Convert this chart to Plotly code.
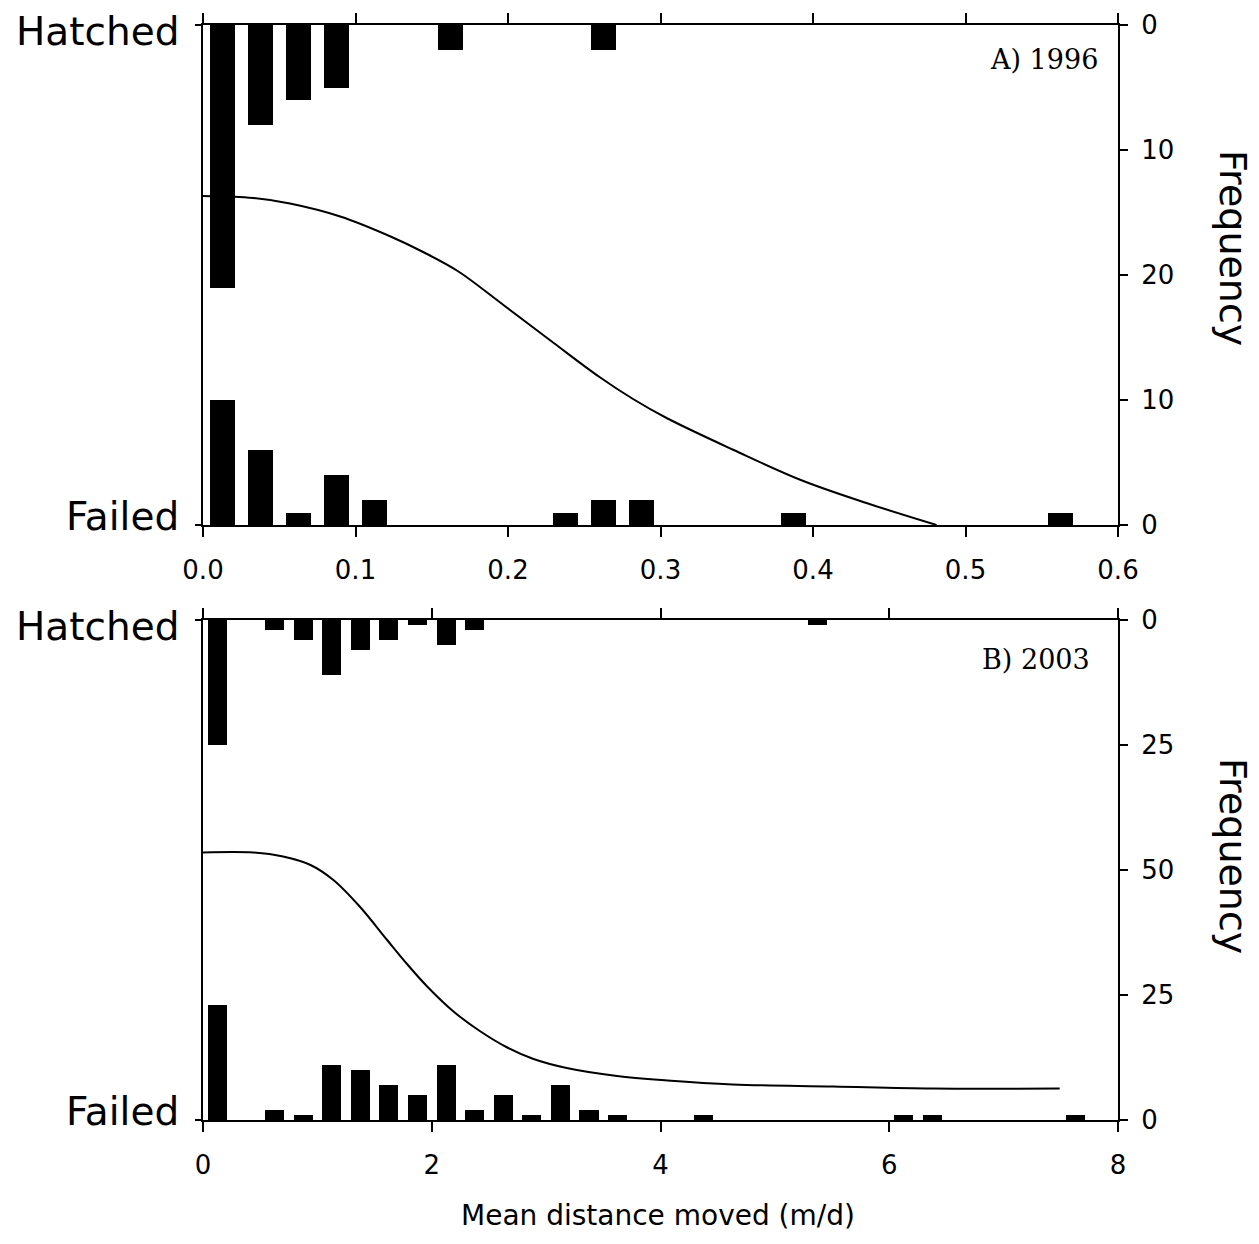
import plotly.graph_objects as go

# ---------------- Panel A (1996) ----------------
a_hatched_x = [0.0125, 0.0375, 0.0625, 0.0875, 0.1625, 0.2625]
a_hatched_n = [21, 8, 6, 5, 2, 2]
a_failed_x = [0.0125, 0.0375, 0.0625, 0.0875, 0.1125, 0.2375, 0.2625, 0.2875, 0.3875, 0.5625]
a_failed_n = [10, 6, 1, 4, 2, 1, 2, 2, 1, 1]
a_curve_x = [0.0, 0.033, 0.057, 0.090, 0.123, 0.145, 0.167, 0.197, 0.230, 0.260, 0.282, 0.304,
             0.348, 0.392, 0.435, 0.481]
a_curve_p = [0.658, 0.654, 0.643, 0.617, 0.577, 0.545, 0.508, 0.440, 0.364, 0.296, 0.252, 0.214,
             0.150, 0.090, 0.044, 0.0]
a_xticks = [0.0, 0.1, 0.2, 0.3, 0.4, 0.5, 0.6]
a_freq_ticks = [0, 10, 20, 30, 40]
a_freq_text = ["0", "10", "20", "10", "0"]

# ---------------- Panel B (2003) ----------------
b_hatched_x = [0.125, 0.625, 0.875, 1.125, 1.375, 1.625, 1.875, 2.125, 2.375, 5.375]
b_hatched_n = [25, 2, 4, 11, 6, 4, 1, 5, 2, 1]
b_failed_x = [0.125, 0.625, 0.875, 1.125, 1.375, 1.625, 1.875, 2.125, 2.375, 2.625,
              2.875, 3.125, 3.375, 3.625, 4.375, 6.125, 6.375, 7.625]
b_failed_n = [23, 2, 1, 11, 10, 7, 5, 11, 2, 5, 1, 7, 2, 1, 1, 1, 1, 1]
b_curve_x = [0.0, 0.44, 0.70, 0.94, 1.14, 1.37, 1.61, 1.78, 1.96, 2.19, 2.42, 2.66, 2.89,
             3.18, 3.62, 4.06, 4.63, 5.51, 6.38, 7.49]
b_curve_p = [0.535, 0.535, 0.527, 0.510, 0.480, 0.427, 0.360, 0.313, 0.267, 0.217, 0.178,
             0.145, 0.122, 0.104, 0.088, 0.079, 0.071, 0.067, 0.063, 0.063]
b_xticks = [0, 2, 4, 6, 8]
b_freq_ticks = [0, 25, 50, 75, 100]
b_freq_text = ["0", "25", "50", "25", "0"]

outcome_labels = ["Failed", "Hatched"]
x_title = "Mean distance moved (m/d)"
freq_title = "Frequency"
panel_labels = ["A) 1996", "B) 2003"]

FONT = "DejaVu Sans"
TICKF = dict(family=FONT, size=26, color="black")
BIGF = dict(family=FONT, size=39, color="black")
FREQF = dict(family=FONT, size=38, color="black")

fig = go.Figure()

# Panel A traces
fig.add_trace(go.Bar(x=a_failed_x, y=a_failed_n, xaxis="x", yaxis="y2",
                     width=0.0164, marker=dict(color="black", line_width=0), showlegend=False))
fig.add_trace(go.Bar(x=a_hatched_x, y=a_hatched_n, xaxis="x", yaxis="y3",
                     width=0.0164, marker=dict(color="black", line_width=0), showlegend=False))
fig.add_trace(go.Scatter(x=a_curve_x, y=a_curve_p, xaxis="x", yaxis="y", mode="lines",
                         line=dict(color="black", width=2, shape="spline", smoothing=1.0),
                         showlegend=False))

# Panel B traces
fig.add_trace(go.Bar(x=b_failed_x, y=b_failed_n, xaxis="x2", yaxis="y5",
                     width=0.167, marker=dict(color="black", line_width=0), showlegend=False))
fig.add_trace(go.Bar(x=b_hatched_x, y=b_hatched_n, xaxis="x2", yaxis="y6",
                     width=0.167, marker=dict(color="black", line_width=0), showlegend=False))
fig.add_trace(go.Scatter(x=b_curve_x, y=b_curve_p, xaxis="x2", yaxis="y4", mode="lines",
                         line=dict(color="black", width=2, shape="spline", smoothing=1.0),
                         showlegend=False))

# page body adds an 8px offset, so the figure is drawn slightly smaller
W, H = 1251, 1236
ML, MT = 195, 17
PW, PH = 915, 1095
MR = W - ML - PW
MB = H - MT - PH
dom_a = [1 - 500 / PH, 1]
dom_b = [0, 1 - 595 / PH]

axline = dict(showline=True, linecolor="black", linewidth=2, ticks="outside",
              tickcolor="black", tickwidth=2, showgrid=False, zeroline=False)

fig.update_layout(
    width=W, height=H,
    margin=dict(l=ML, r=MR, t=MT, b=MB, autoexpand=False),
    plot_bgcolor="white", paper_bgcolor="white",
    barmode="overlay", bargap=0,
    xaxis=dict(domain=[0, 1], anchor="y", range=[0, 0.6], tickvals=a_xticks,
               tickformat=".1f", ticklen=10, mirror="ticks", tickfont=TICKF,
               ticklabelstandoff=11, **axline),
    yaxis=dict(domain=dom_a, anchor="x", range=[0, 1], tickvals=[0, 1],
               showticklabels=False, ticklen=6, **axline),
    yaxis2=dict(overlaying="y", side="right", anchor="x", range=[0, 40],
                tickvals=a_freq_ticks, ticktext=a_freq_text, ticklen=8,
                tickfont=TICKF, ticklabelstandoff=8, **axline),
    yaxis3=dict(overlaying="y", anchor="x", range=[40, 0], visible=False),
    xaxis2=dict(domain=[0, 1], anchor="y4", range=[0, 8], tickvals=b_xticks,
                ticklen=10, mirror="ticks", tickfont=TICKF, ticklabelstandoff=11, **axline),
    yaxis4=dict(domain=dom_b, anchor="x2", range=[0, 1], tickvals=[0, 1],
                showticklabels=False, ticklen=6, **axline),
    yaxis5=dict(overlaying="y4", side="right", anchor="x2", range=[0, 100],
                tickvals=b_freq_ticks, ticktext=b_freq_text, ticklen=8,
                tickfont=TICKF, ticklabelstandoff=8, **axline),
    yaxis6=dict(overlaying="y4", anchor="x2", range=[100, 0], visible=False),
)

ann = []
for yref in ["y domain", "y4 domain"]:
    ann.append(dict(text=outcome_labels[1], xref="x domain", x=0, xanchor="right", xshift=-22,
                    yref=yref, y=1, yanchor="middle", yshift=-6, showarrow=False, font=BIGF))
    ann.append(dict(text=outcome_labels[0], xref="x domain", x=0, xanchor="right", xshift=-22,
                    yref=yref, y=0, yanchor="middle", yshift=9, showarrow=False, font=BIGF))

ann.append(dict(text=freq_title, xref="paper", x=1, xshift=115, xanchor="center",
                yref="paper", y=1 - (248 - 25) / PH, yanchor="middle", textangle=90,
                showarrow=False, font=FREQF))
ann.append(dict(text=freq_title, xref="paper", x=1, xshift=115, xanchor="center",
                yref="paper", y=1 - (856 - 25) / PH, yanchor="middle", textangle=90,
                showarrow=False, font=FREQF))

PANF = dict(family="DejaVu Serif", size=27, color="black")
ann.append(dict(text=panel_labels[0], xref="x domain", x=1, xanchor="right", xshift=-18,
                yref="y domain", y=1, yanchor="middle", yshift=-34, showarrow=False, font=PANF))
ann.append(dict(text=panel_labels[1], xref="x2 domain", x=1, xanchor="right", xshift=-26,
                yref="y4 domain", y=1, yanchor="middle", yshift=-39, showarrow=False, font=PANF))

ann.append(dict(text=x_title, xref="paper", x=0.5, xanchor="center", xshift=-3,
                yref="paper", y=0, yanchor="middle", yshift=-95, showarrow=False,
                font=dict(family=FONT, size=28, color="black")))

fig.update_layout(annotations=ann)

fig.write_html("out.html")
